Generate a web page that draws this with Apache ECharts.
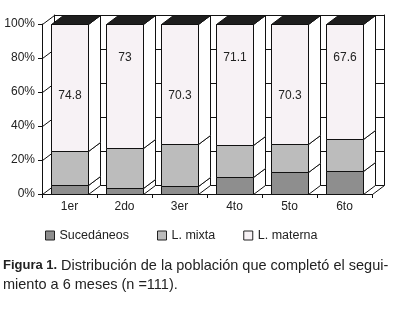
<!DOCTYPE html>
<html>
<head>
<meta charset="utf-8">
<script src="https://cdn.jsdelivr.net/npm/echarts/dist/echarts.min.js"></script>
<style>
html, body { margin: 0; padding: 0; background: #fff; }
#chart { width: 399px; height: 309px; }
</style>
</head>
<body>
<div id="chart"></div>
<script>
// datos (porcentajes por mes)
var meses = ['1er', '2do', '3er', '4to', '5to', '6to'];
var sucedaneos = [5.2, 3.3, 4.5, 10, 13, 13.5];
var mixta = [20, 23.7, 25.2, 18.9, 16.7, 18.9];
var materna = [74.8, 73, 70.3, 71.1, 70.3, 67.6];
var ticksY = [0, 20, 40, 60, 80, 100];

var DX = 12, DY = -9;   // profundidad del efecto 3D
var FONT = 'Liberation Sans';

(function(){
    var myChart = echarts.init(document.getElementById('chart'));

    function px(v) { return Math.round(v) + 0.5; }

    // arma los datos apilados [categoria, base, tope, valor]
    function apilar(vals, bases) {
        return vals.map(function (v, i) {
            return [i, bases[i], bases[i] + v, v];
        });
    }
    var base0 = meses.map(function () { return 0; });
    var base1 = sucedaneos.slice();
    var base2 = sucedaneos.map(function (v, i) { return v + mixta[i]; });

    function barra3d(fill, esTope) {
        return function (params, api) {
            var i = api.value(0);
            var pb = api.coord([i, api.value(1)]);
            var pt = api.coord([i, api.value(2)]);
            var w = api.size([1, 0])[0] * 0.69;
            var x0 = px(pb[0] - w / 2), x1 = px(pb[0] + w / 2);
            var yb = px(pb[1]), yt = px(pt[1]);
            var hijos = [
                { type: 'polygon',
                  shape: { points: [[x1, yb], [x1 + DX, yb + DY], [x1 + DX, yt + DY], [x1, yt]] },
                  style: { fill: '#fff', stroke: '#111', lineWidth: 1 } },
                { type: 'rect',
                  shape: { x: x0, y: yt, width: x1 - x0, height: yb - yt },
                  style: { fill: fill, stroke: '#111', lineWidth: 1 } }
            ];
            if (esTope) {
                hijos.push({ type: 'polygon',
                    shape: { points: [[x0, yt], [x0 + DX, yt + DY], [x1 + DX, yt + DY], [x1, yt]] },
                    style: { fill: '#1e1e1e', stroke: '#111', lineWidth: 1 } });
                hijos.push({ type: 'text',
                    style: { text: String(api.value(3)), x: (x0 + x1) / 2,
                             y: yt + (i % 2 ? 33 : 71),
                             align: 'center', verticalAlign: 'middle',
                             fontSize: 12, fontFamily: FONT, fill: '#222' } });
            }
            return { type: 'group', children: hijos };
        };
    }

    // lineas diagonales de la pared izquierda y del piso
    function paredes(params, api) {
        var cs = params.coordSys;
        var y = px(api.coord([0, api.value(1)])[1]);
        var x = px(cs.x);
        var hijos = [{ type: 'line', shape: { x1: x, y1: y, x2: x + DX, y2: y + DY }, style: { stroke: '#111', lineWidth: 1 } }];
        if (api.value(1) === 0) {
            var xr = px(cs.x + cs.width);
            hijos.push({ type: 'line', shape: { x1: xr, y1: y, x2: xr + DX, y2: y + DY }, style: { stroke: '#111', lineWidth: 1 } });
        }
        return { type: 'group', children: hijos };
    }

    var lineaNegra = { show: true, lineStyle: { color: '#111', width: 1 } };

    option = {
        animation: false,
        textStyle: { fontFamily: FONT },
        grid: [
            { left: 42, right: 27, top: 24, bottom: 115 },
            { left: 54, right: 15, top: 15, bottom: 124 }
        ],
        xAxis: [
            { type: 'category', gridIndex: 0, data: meses,
              axisLine: lineaNegra,
              axisTick: { show: true, length: 4, lineStyle: { color: '#111' } },
              axisLabel: { color: '#222', fontSize: 12, margin: 7 } },
            { type: 'category', gridIndex: 1, data: meses,
              axisLine: lineaNegra, axisTick: { show: false }, axisLabel: { show: false } }
        ],
        yAxis: [
            { type: 'value', gridIndex: 0, min: 0, max: 100, interval: 20,
              axisLine: lineaNegra,
              axisTick: { show: true, length: 4, lineStyle: { color: '#111' } },
              splitLine: { show: false },
              axisLabel: { formatter: '{value}%', color: '#222', fontSize: 12, margin: 7 } },
            { type: 'value', gridIndex: 1, min: 0, max: 100, interval: 20,
              axisLine: lineaNegra, axisTick: { show: false }, axisLabel: { show: false },
              splitLine: { show: true, lineStyle: { color: '#111', width: 1 } } },
            { type: 'value', gridIndex: 1, min: 0, max: 100, position: 'right',
              axisLine: lineaNegra, axisTick: { show: false }, axisLabel: { show: false },
              splitLine: { show: false } }
        ],
        legend: {
            left: 40, top: 224,
            itemWidth: 9, itemHeight: 9, itemGap: 28,
            icon: 'rect',
            itemStyle: { borderColor: '#222', borderWidth: 1 },
            textStyle: { color: '#222', fontSize: 12.5, fontFamily: FONT },
            data: ['Sucedáneos', 'L. mixta', 'L. materna']
        },
        series: [
            { type: 'custom', name: 'paredes', xAxisIndex: 0, yAxisIndex: 0, z: 1,
              silent: true, renderItem: paredes,
              data: ticksY.map(function (v) { return [0, v]; }) },
            { type: 'custom', name: 'Sucedáneos', xAxisIndex: 0, yAxisIndex: 0, z: 3,
              itemStyle: { color: '#8e8e8e' },
              renderItem: barra3d('#8e8e8e', false), data: apilar(sucedaneos, base0) },
            { type: 'custom', name: 'L. mixta', xAxisIndex: 0, yAxisIndex: 0, z: 3,
              itemStyle: { color: '#bcbcbc' },
              renderItem: barra3d('#bcbcbc', false), data: apilar(mixta, base1) },
            { type: 'custom', name: 'L. materna', xAxisIndex: 0, yAxisIndex: 0, z: 3,
              itemStyle: { color: '#f7f2f5' },
              renderItem: barra3d('#f7f2f5', true), data: apilar(materna, base2) }
        ],
        graphic: [
            { type: 'text', left: 3, top: 259,
              style: { text: 'Figura 1.', fontSize: 13, fontWeight: 'bold', fontFamily: FONT, fill: '#222' } },
            { type: 'text', left: 61, top: 258,
              style: { text: 'Distribución de la población que completó el segui-', fontSize: 14.5, fontFamily: FONT, fill: '#222' } },
            { type: 'text', left: 3, top: 277,
              style: { text: 'miento a 6 meses (n =111).', fontSize: 14.5, fontFamily: FONT, fill: '#222' } }
        ]
    };
    myChart.setOption(option);
})();
</script>
</body>
</html>
